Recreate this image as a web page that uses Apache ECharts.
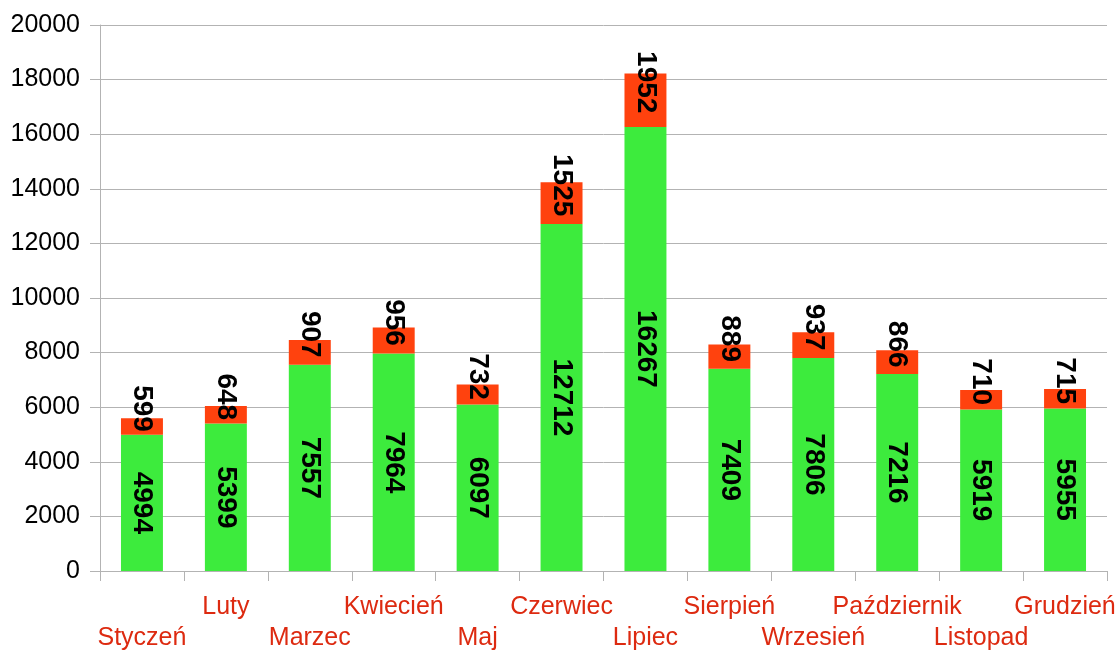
<!DOCTYPE html>
<html>
<head>
<meta charset="utf-8">
<script src="https://cdn.jsdelivr.net/npm/echarts@6/dist/echarts.min.js"></script>
<style>
  html, body { margin: 0; padding: 0; background: #fff; }
  #chart { width: 1120px; height: 650px; }
</style>
</head>
<body>
<div id="chart"></div>
<script>
var months = ["Styczeń", "Luty", "Marzec", "Kwiecień", "Maj", "Czerwiec", "Lipiec",
  "Sierpień", "Wrzesień", "Październik", "Listopad", "Grudzień"];
var baseValues = [4994, 5399, 7557, 7964, 6097, 12712, 16267, 7409, 7806, 7216, 5919, 5955];
var topValues = [599, 648, 907, 956, 732, 1525, 1952, 889, 937, 866, 710, 715];

var chart = echarts.init(document.getElementById("chart"));
var labelFont = "Liberation Sans, Arial, sans-serif";

var option = {
  animation: false,
  grid: { left: 100, right: 13, top: 25, bottom: 79, outerBoundsMode: "none" },
  xAxis: {
    type: "category",
    data: months,
    axisLine: { lineStyle: { color: "#b3b3b3", width: 1 } },
    axisTick: { show: true, interval: 0, length: 10, lineStyle: { color: "#b3b3b3" } },
    axisLabel: {
      interval: 0,
      margin: 21,
      color: "#dd2a10",
      fontFamily: labelFont,
      fontSize: 25,
      lineHeight: 31,
      // co drugi miesiąc w dolnym wierszu
      formatter: function (v, i) {
        return i % 2 === 0 ? "\n" + v : v + "\n";
      }
    }
  },
  yAxis: {
    type: "value",
    min: 0,
    max: 20000,
    interval: 2000,
    axisLine: { show: true, lineStyle: { color: "#b3b3b3" } },
    axisTick: { show: true, length: 10, lineStyle: { color: "#b3b3b3" } },
    axisLabel: {
      margin: 20,
      color: "#000",
      fontFamily: labelFont,
      fontSize: 25,
      formatter: function (v) { return String(v); }
    },
    splitLine: { lineStyle: { color: "#b3b3b3" } }
  },
  series: [
    {
      name: "base",
      type: "bar",
      stack: "total",
      barWidth: "50%",
      itemStyle: { color: "#3deb3d" },
      label: {
        show: true,
        position: "inside",
        rotate: -90,
        color: "#000",
        fontFamily: labelFont,
        fontWeight: "bold",
        fontSize: 28
      },
      data: baseValues
    },
    {
      name: "top",
      type: "bar",
      stack: "total",
      barWidth: "50%",
      itemStyle: { color: "#ff420e" },
      label: {
        show: true,
        position: "inside",
        rotate: -90,
        offset: [-18, 0],
        color: "#000",
        fontFamily: labelFont,
        fontWeight: "bold",
        fontSize: 28
      },
      data: topValues
    }
  ]
};

chart.setOption(option);
window.addEventListener("resize", function () {
  chart.resize();
});
</script>
</body>
</html>
